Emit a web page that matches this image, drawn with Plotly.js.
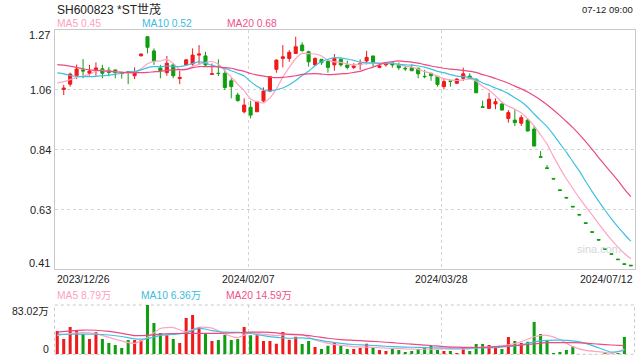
<!DOCTYPE html>
<html><head><meta charset="utf-8">
<script src="https://cdn.plot.ly/plotly-3.0.1.min.js"></script>
<style>html,body{margin:0;padding:0;background:#fff;}#chart{width:640px;height:360px;}</style>
</head><body><div id="chart"></div>
<script>
// ---------- texts ----------
const titleText = 'SH600823 *ST世茂';
const timeText = '07-12 09:00';
const dateLabels = ['2023/12/26', '2024/02/07', '2024/03/28', '2024/07/12'];
const priceTickText = ['1.27', '1.06', '0.84', '0.63', '0.41'];
const priceTickVals = [1.27, 1.055, 0.84, 0.625, 0.41];
const volTickText = ['83.02万', '0'];
const volMax = 83.02;
const maLegend = ['MA5 0.45', 'MA10 0.52', 'MA20 0.68'];
const volLegend = ['MA5 8.79万', 'MA10 6.36万', 'MA20 14.59万'];

// ---------- daily candles ----------
const open = [1.057,1.076,1.106,1.127,1.115,1.128,1.131,1.126,1.127,1.117,
1.121,1.106,1.178,1.246,1.195,1.134,1.117,1.145,1.096,1.145,
1.148,1.180,1.177,1.111,1.115,1.115,1.088,1.037,0.977,0.993,
0.977,1.016,1.051,1.129,1.168,1.168,1.186,1.216,1.192,1.145,
1.165,1.157,1.145,1.165,1.145,1.136,1.147,1.159,1.177,1.136,
1.145,1.153,1.145,1.133,1.135,1.133,1.104,1.115,1.104,1.067,
1.087,1.079,1.097,1.105,1.093,0.995,0.989,1.005,1.005,0.953,
0.947,0.936,0.947,0.915,0.816,0.776,0.738,0.697,0.670,0.638,
0.609,0.579,0.547,0.519,0.486,0.468,0.449,0.432,0.427];
const high = [1.073,1.117,1.146,1.166,1.145,1.154,1.145,1.137,1.127,1.117,
1.121,1.136,1.186,1.246,1.204,1.145,1.177,1.151,1.124,1.166,
1.204,1.216,1.192,1.150,1.165,1.129,1.097,1.045,1.025,1.016,
1.016,1.064,1.103,1.165,1.216,1.198,1.246,1.226,1.196,1.172,
1.165,1.165,1.184,1.169,1.160,1.151,1.165,1.195,1.177,1.151,
1.154,1.157,1.154,1.142,1.147,1.133,1.127,1.115,1.104,1.094,
1.087,1.097,1.135,1.115,1.097,1.017,1.045,1.025,1.010,0.983,
0.986,0.965,0.953,0.926,0.836,0.786,0.738,0.697,0.670,0.638,
0.609,0.579,0.547,0.519,0.486,0.468,0.449,0.432,0.427];
const low = [1.037,1.067,1.094,1.097,1.106,1.106,1.097,1.104,1.097,1.096,
1.076,1.094,1.174,1.186,1.145,1.097,1.106,1.097,1.076,1.142,
1.142,1.145,1.139,1.110,1.105,1.055,1.025,1.013,0.971,0.953,
0.977,1.010,1.047,1.117,1.136,1.156,1.184,1.192,1.139,1.141,
1.145,1.117,1.124,1.139,1.129,1.130,1.127,1.147,1.139,1.133,
1.139,1.135,1.127,1.123,1.123,1.097,1.097,1.088,1.067,1.057,
1.067,1.076,1.087,1.096,1.045,0.993,0.987,0.986,0.983,0.938,
0.926,0.926,0.906,0.854,0.814,0.774,0.736,0.695,0.668,0.636,
0.607,0.577,0.545,0.517,0.484,0.466,0.447,0.430,0.425];
const close = [1.062,1.112,1.130,1.123,1.123,1.134,1.115,1.118,1.117,1.114,
1.118,1.121,1.184,1.208,1.159,1.124,1.151,1.106,1.100,1.163,
1.180,1.184,1.145,1.113,1.114,1.064,1.067,1.017,1.001,0.965,
1.013,1.051,1.103,1.162,1.174,1.190,1.210,1.196,1.156,1.168,
1.153,1.136,1.168,1.145,1.136,1.141,1.150,1.172,1.154,1.141,
1.148,1.145,1.135,1.131,1.124,1.113,1.103,1.106,1.075,1.085,
1.086,1.094,1.113,1.096,1.045,0.993,1.022,1.013,0.983,0.974,
0.938,0.956,0.908,0.854,0.814,0.774,0.736,0.695,0.668,0.636,
0.607,0.577,0.545,0.517,0.484,0.466,0.447,0.430,0.425];

// price moving averages (one value per slot, slot 0 = left edge)
const ma5 = [1.080,1.085,1.092,1.100,1.106,1.110,1.124,1.125,1.123,1.121,
1.120,1.116,1.118,1.131,1.149,1.158,1.159,1.165,1.150,1.128,
1.129,1.140,1.147,1.154,1.157,1.147,1.124,1.101,1.075,1.053,
1.023,1.013,1.009,1.027,1.059,1.101,1.136,1.168,1.186,1.185,
1.184,1.177,1.162,1.156,1.154,1.148,1.145,1.148,1.149,1.151,
1.152,1.153,1.152,1.145,1.140,1.137,1.130,1.121,1.115,1.104,
1.096,1.091,1.089,1.091,1.095,1.087,1.068,1.054,1.034,1.011,
0.997,0.986,0.973,0.952,0.926,0.894,0.861,0.817,0.775,0.737,
0.702,0.668,0.637,0.607,0.576,0.546,0.518,0.492,0.469,0.450];
const ma10 = [1.116,1.113,1.107,1.104,1.103,1.103,1.104,1.106,1.108,1.111,
1.115,1.120,1.121,1.127,1.135,1.139,1.138,1.141,1.140,1.139,
1.143,1.150,1.156,1.152,1.143,1.138,1.132,1.124,1.115,1.105,
1.085,1.068,1.055,1.051,1.056,1.062,1.074,1.089,1.107,1.122,
1.142,1.156,1.165,1.171,1.170,1.166,1.161,1.155,1.153,1.152,
1.150,1.149,1.150,1.147,1.145,1.144,1.141,1.137,1.130,1.122,
1.117,1.110,1.105,1.103,1.100,1.092,1.080,1.072,1.062,1.053,
1.042,1.027,1.013,0.993,0.969,0.946,0.924,0.895,0.863,0.832,
0.798,0.765,0.727,0.691,0.657,0.624,0.593,0.564,0.538,0.513];
const ma20 = [1.146,1.144,1.140,1.136,1.131,1.127,1.125,1.124,1.122,1.120,
1.118,1.117,1.117,1.117,1.118,1.120,1.122,1.125,1.127,1.128,
1.129,1.135,1.139,1.139,1.139,1.138,1.135,1.133,1.127,1.122,
1.114,1.109,1.105,1.101,1.099,1.100,1.103,1.106,1.111,1.113,
1.114,1.112,1.110,1.111,1.113,1.114,1.118,1.122,1.130,1.137,
1.146,1.153,1.157,1.159,1.157,1.155,1.151,1.146,1.141,1.137,
1.133,1.130,1.128,1.125,1.122,1.118,1.110,1.104,1.096,1.088,
1.079,1.069,1.059,1.048,1.034,1.019,1.002,0.983,0.963,0.942,
0.920,0.896,0.870,0.842,0.813,0.785,0.758,0.730,0.700,0.673];

// volume (万), one bar per slot starting at slot 0; 1 = red (up), 0 = green (down)
const volume = [39.2,25.8,46.0,39.8,34.2,25.8,37.0,25.8,19.0,15.7,
10.6,24.1,24.1,24.1,83.02,52.7,35.9,32.0,25.8,19.0,
61.1,66.2,45.5,35.4,22.4,24.1,32.5,24.1,25.8,46.0,
32.0,32.0,22.4,22.4,17.9,37.6,24.6,29.6,17.3,22.4,
12.3,8.9,14.5,19.0,14.0,8.9,8.9,10.6,17.9,10.6,
7.2,5.6,8.9,7.2,3.9,5.6,8.9,10.6,14.0,7.2,
5.6,5.6,2.2,10.6,5.6,17.3,17.3,15.7,10.6,8.9,
29.1,22.4,19.0,21.3,54.4,34.2,24.1,2.2,3.9,7.2,
14.0,0.5,0.3,0.5,0.5,3.9,0.5,2.2,29.1];
const volUp = [1,1,1,1,0,1,1,0,0,0,
0,0,1,1,0,0,0,1,0,1,
1,1,1,0,1,0,0,0,0,1,
0,1,1,1,1,1,1,1,0,0,
1,0,0,1,0,0,1,1,1,0,
1,1,0,0,0,0,0,0,0,0,
1,0,1,1,0,0,0,1,1,0,
1,0,1,0,0,0,0,0,0,0,
0,0,0,0,0,0,0,0,0];

// volume moving averages, read every second slot (0,2,4,...)
const volMa5 = [31.5,35.0,36.4,34.5,28.5,22.5,18.5,28.5,43.5,45.0,
38.0,45.5,44.0,34.0,28.0,37.0,34.0,31.5,34.0,33.0,
24.0,18.5,15.0,13.0,12.0,11.0,10.1,9.0,8.5,8.5,
9.0,8.5,9.0,12.0,13.0,16.0,21.0,29.6,32.0,25.0,
13.0,6.5,4.5,1.7,8.8];
const volMa10 = [33.6,33.8,34.0,33.8,32.5,30.0,26.0,26.5,32.0,33.5,
36.0,44.0,40.0,37.2,37.0,35.0,31.5,28.5,27.0,27.5,
25.2,21.3,18.5,16.5,15.5,14.2,13.0,12.2,11.5,11.0,
10.6,10.2,10.4,10.8,11.3,13.2,16.0,21.0,23.5,23.8,
22.5,18.5,11.0,3.6,6.4];
const volMa20 = [37.5,39.5,40.8,40.5,38.5,35.3,31.5,32.0,34.0,35.0,
35.3,35.3,35.3,35.5,36.3,37.3,37.3,36.0,33.5,32.7,
30.0,27.0,24.8,23.5,22.3,21.1,19.5,17.8,16.3,14.8,
13.0,12.0,11.5,11.6,12.9,14.2,15.5,17.5,19.5,19.8,
19.6,18.9,17.0,15.7,14.6];

// ---------- styles ----------
const RED = '#f01a1a', GREEN = '#0f9e0f';
const C5 = '#ffa3c3', C10 = '#3fc1e2', C20 = '#ec4a80';
const FONT = 'Liberation Sans, Arial, "Noto Sans CJK SC", sans-serif';
const TXT = '#222';
const W = 640, H = 360;
const px = x => x / W;
const py = y => 1 - y / H;

const candleSlot = close.map((_, k) => k + 1);
const maSlot = ma5.map((_, k) => k);
const volSlot = volume.map((_, k) => k);
const volMaSlot = volMa5.map((_, k) => k * 2);

const maLine = (x, y, color, xa, ya) => ({
  type: 'scatter', mode: 'lines', x: x, y: y, xaxis: xa, yaxis: ya,
  line: {color: color, width: 1.2, shape: 'spline', smoothing: 0.6},
  hoverinfo: 'skip'
});

const traces = [
  {
    type: 'candlestick', x: candleSlot, open: open, high: high, low: low, close: close,
    xaxis: 'x', yaxis: 'y', whiskerwidth: 0, hoverinfo: 'skip',
    increasing: {line: {color: RED, width: 1}, fillcolor: RED},
    decreasing: {line: {color: GREEN, width: 1}, fillcolor: GREEN}
  },
  maLine(maSlot, ma5, C5, 'x', 'y'),
  maLine(maSlot, ma10, C10, 'x', 'y'),
  maLine(maSlot, ma20, C20, 'x', 'y'),
  {
    type: 'bar', x: volSlot, y: volume, xaxis: 'x2', yaxis: 'y2', width: 0.47,
    marker: {color: volUp.map(u => u ? RED : GREEN), line: {width: 0}},
    hoverinfo: 'skip'
  },
  maLine(volMaSlot, volMa5, C5, 'x2', 'y2'),
  maLine(volMaSlot, volMa10, C10, 'x2', 'y2'),
  maLine(volMaSlot, volMa20, C20, 'x2', 'y2')
];

const xr = [-0.43, 89.57];
const gridSlots = [29.65, 59.65];
const xDom = [px(54.5), px(634.5)];

const ann = (text, x, y, xanchor, size, color) => ({
  text: text, xref: 'paper', yref: 'paper', x: px(x), y: py(y),
  xanchor: xanchor, yanchor: 'middle', showarrow: false,
  font: {family: FONT, size: size, color: color || TXT}
});

const annotations = [
  ann(titleText, 55, 9.5, 'left', 12),
  ann(timeText, 635, 9.5, 'right', 9.5),
  ann(maLegend[0], 55, 24, 'left', 10.3, '#ff9fc0'),
  ann(maLegend[1], 140, 24, 'left', 10.3, '#37bde0'),
  ann(maLegend[2], 225, 24, 'left', 10.3, '#ee5289'),
  ann(priceTickText[0], 52, 35, 'right', 11),
  ann(priceTickText[4], 52, 263, 'right', 11),
  ann(dateLabels[0], 55, 278.5, 'left', 10.5),
  ann(dateLabels[1], 248.3, 278.5, 'center', 10.5),
  ann(dateLabels[2], 441.7, 278.5, 'center', 10.5),
  ann(dateLabels[3], 635, 278.5, 'right', 10.5),
  ann(volLegend[0], 55, 295.7, 'left', 10.3, '#ff9fc0'),
  ann(volLegend[1], 139.3, 295.7, 'left', 10.3, '#37bde0'),
  ann(volLegend[2], 224, 295.7, 'left', 10.3, '#ee5289'),
  ann(volTickText[0], 51, 310.5, 'right', 10.5),
  ann(volTickText[1], 51, 348.5, 'right', 10.5),
  ann('sina.com', 623, 249, 'right', 11, '#d6d6d6')
];

const layout = {
  width: W, height: H, margin: {l: 0, r: 0, t: 0, b: 0},
  paper_bgcolor: '#fff', plot_bgcolor: '#fff', showlegend: false,
  boxgap: 0.32, bargap: 0.5,
  font: {family: FONT, size: 11, color: TXT},
  xaxis: {
    domain: xDom, anchor: 'y', range: xr, tickvals: gridSlots, showticklabels: false,
    showgrid: true, gridcolor: '#d4d4d4', griddash: 'dot', gridwidth: 1,
    showline: true, mirror: true, linecolor: '#c8c8c8', linewidth: 1,
    zeroline: false, ticks: '', rangeslider: {visible: false}, fixedrange: true
  },
  yaxis: {
    domain: [py(268.5), py(29.5)], anchor: 'x', range: [0.4152, 1.2718],
    tickvals: priceTickVals.slice(1, 4), ticktext: priceTickText.slice(1, 4),
    showgrid: true, gridcolor: '#d4d4d4', griddash: 'dot', gridwidth: 1,
    showline: true, mirror: true, linecolor: '#c8c8c8', linewidth: 1,
    zeroline: false, ticks: '', tickfont: {family: FONT, size: 11, color: TXT},
    fixedrange: true
  },
  xaxis2: {
    domain: xDom, anchor: 'y2', range: xr, tickvals: gridSlots, showticklabels: false,
    showgrid: true, gridcolor: '#d4d4d4', griddash: 'dot', gridwidth: 1,
    showline: false, zeroline: false, ticks: '', fixedrange: true
  },
  yaxis2: {
    domain: [py(354.3), py(305)], anchor: 'x2', range: [0, volMax],
    showgrid: false, showticklabels: false, zeroline: false, showline: false,
    ticks: '', fixedrange: true
  },
  shapes: [{
    type: 'rect', xref: 'paper', yref: 'paper',
    x0: px(54.5), x1: px(634.5), y0: py(354.3), y1: py(305),
    line: {color: '#c8c8c8', width: 1, dash: 'dot'}, fillcolor: 'rgba(0,0,0,0)', layer: 'below'
  }],
  annotations: annotations
};

Plotly.newPlot('chart', traces, layout, {staticPlot: true, displayModeBar: false});
</script>
</body></html>
